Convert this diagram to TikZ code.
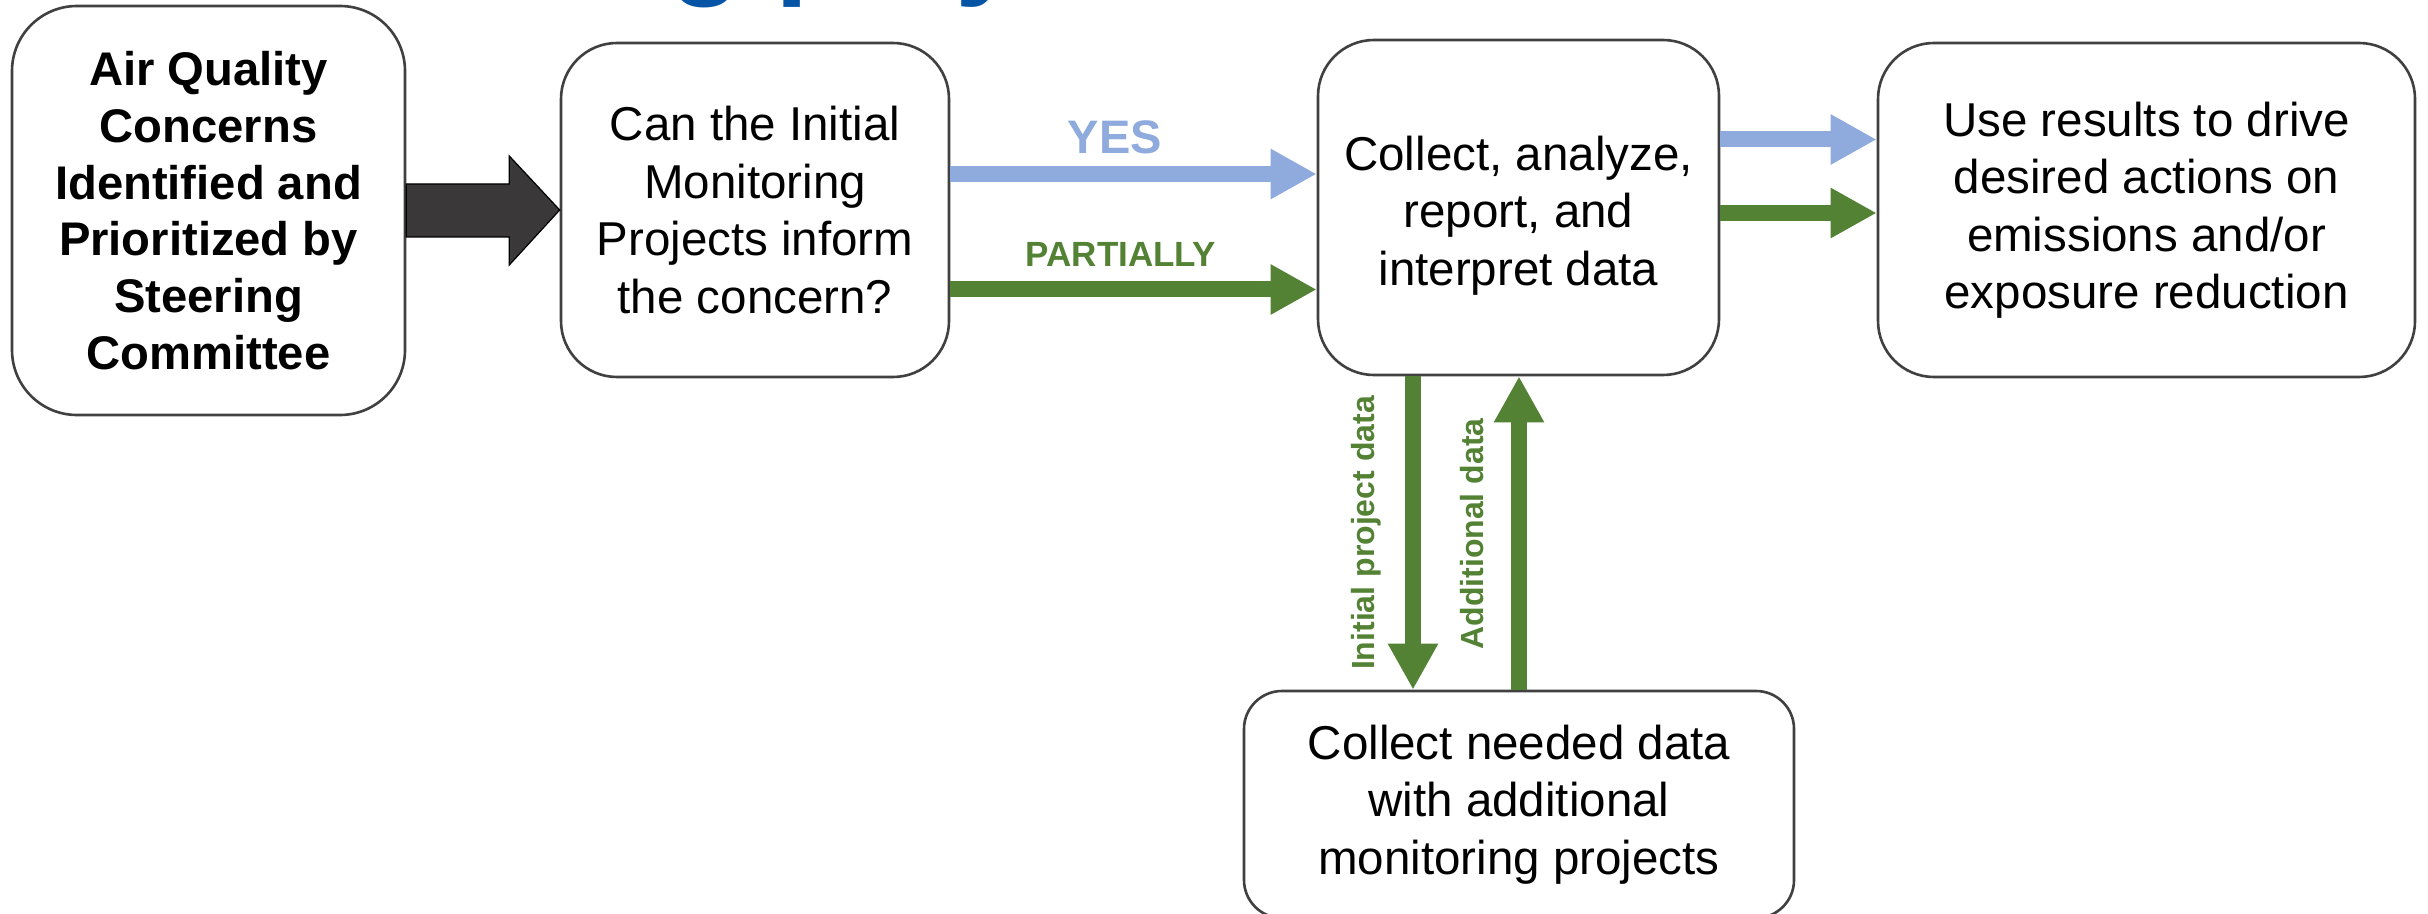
\documentclass[tikz,border=0pt]{standalone}
\usepackage{fontspec}
\setmainfont{Liberation Sans}
\usetikzlibrary{arrows.meta,calc}
\definecolor{boxline}{RGB}{64,64,64}
\definecolor{yesblue}{RGB}{143,170,220}
\definecolor{partgreen}{RGB}{84,130,53}
\definecolor{blockgray}{RGB}{58,56,56}
\definecolor{titleblue}{RGB}{5,84,165}
\begin{document}
\begin{tikzpicture}[x=0.5pt,y=-0.5pt,
  box/.style={draw=boxline,line width=1.3pt,fill=white,align=center,inner sep=0pt,
    font=\fontsize{23.75pt}{28.75pt}\selectfont},
  boxtext/.style={align=center,inner sep=0pt,font=\fontsize{23.75pt}{28.75pt}\selectfont},
  flowarr/.style={line width=8pt,-{Triangle[length=23pt,width=23.5pt]}},
  blockarr/.style={fill=blockgray,draw=black,line width=0.6pt,line join=miter},
  vlabel/.style={rotate=90,anchor=base,inner sep=0pt,text=partgreen,
    font=\bfseries\fontsize{16pt}{19pt}\selectfont}]
\useasboundingbox (0,0) rectangle (2428,914);
\clip (0,0) rectangle (2428,914);
\fill[white] (0,0) rectangle (2428,914);

% partially visible title
\node[anchor=base west,inner sep=0pt,text=titleblue,
  font=\bfseries\fontsize{60pt}{72pt}\selectfont] (title) at (669,-17) {g poly};

% boxes
\node[box,font=\bfseries\fontsize{23.6pt}{28.35pt}\selectfont,
  minimum width=196.5pt,minimum height=204.5pt,rounded corners=32.5pt]
  (b1) at (208.5,210.5) {Air Quality\\Concerns\\Identified and\\Prioritized by\\Steering\\Committee};
\node[box,minimum width=194pt,minimum height=167pt,rounded corners=28pt]
  (b2) at (755,210) {Can the Initial\\Monitoring\\Projects inform\\the concern?};
\node[box,minimum width=200.5pt,minimum height=167.5pt,rounded corners=28pt]
  (b3) at (1518.5,207.5) {};
\node[boxtext] (b3text) at ([yshift=-4pt]b3.center) {Collect, analyze,\\report, and\\interpret data};
\node[box,minimum width=268.5pt,minimum height=167pt,rounded corners=28pt]
  (b4) at (2146.5,210) {Use results to drive\\desired actions on\\emissions and/or\\exposure reduction};
\node[box,minimum width=275pt,minimum height=113.5pt,rounded corners=19pt]
  (b5) at (1519,804.5) {Collect needed data\\with additional\\monitoring projects};

% black block arrow
\draw[blockarr] ($(b1.east)+(0,-26.5)$) -- ++(103,0) -- ++(0,-28) -- (b2.west)
  -- ($(b1.east)+(103,54.5)$) -- ++(0,-28) -- ($(b1.east)+(0,26.5)$) -- cycle;

% decision arrows
\coordinate (yesS) at ([yshift=18pt]b2.east);
\coordinate (yesE) at (yesS -| b3.west);
\draw[flowarr,yesblue] (yesS) -- (yesE);
\coordinate (parS) at ([yshift=-39.75pt]b2.east);
\coordinate (parE) at (parS -| b3.west);
\draw[flowarr,partgreen] (parS) -- (parE);
\node[anchor=base,inner sep=0pt,text=yesblue,font=\bfseries\fontsize{23.5pt}{28pt}\selectfont]
  (yes) at (1115,154) {YES};
\node[anchor=base,inner sep=0pt,text=partgreen,font=\bfseries\fontsize{17.5pt}{21pt}\selectfont]
  (part) at (1121,267) {PARTIALLY};

% result arrows
\coordinate (r1S) at ([yshift=34pt]b3.east);
\coordinate (r1E) at (r1S -| b4.west);
\draw[flowarr,yesblue] (r1S) -- (r1E);
\coordinate (r2S) at ([yshift=-2.75pt]b3.east);
\coordinate (r2E) at (r2S -| b4.west);
\draw[flowarr,partgreen] (r2S) -- (r2E);

% vertical arrows
\coordinate (dnS) at ([xshift=-52.75pt]b3.south);
\coordinate (dnE) at (dnS |- b5.north);
\draw[flowarr,partgreen] (dnS) -- (dnE);
\coordinate (upE) at (b5.north |- b3.south);
\draw[flowarr,partgreen] (b5.north) -- (upE);
\node[vlabel] (initlab) at (1374,533) {Initial project data};
\node[vlabel] (addlab) at (1483,534) {Additional data};
\end{tikzpicture}
\end{document}
